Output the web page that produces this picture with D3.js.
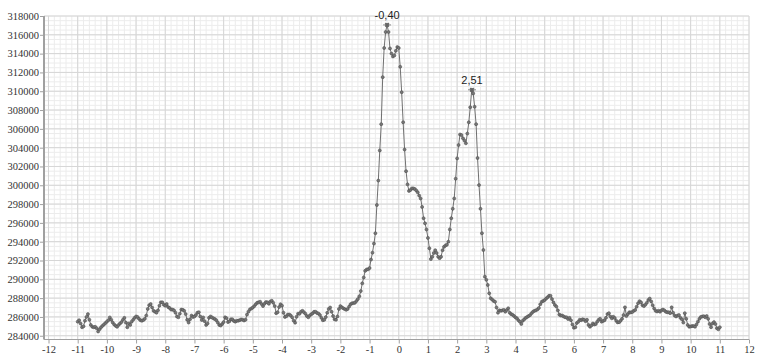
<!DOCTYPE html>
<html>
<head>
<meta charset="utf-8">
<script src="https://cdn.jsdelivr.net/npm/d3@7"></script>
<style>
  html, body { margin: 0; padding: 0; background: #fff; }
  svg { display: block; }
</style>
</head>
<body>
<svg id="chart" width="757" height="356"></svg>
<script>
// x runs from -11 to 11 in steps of 0.05
const xStart = -11;
const xStep = 0.05;
const values = [
  // -11.00 .. -10.05
  285500, 285650, 285300, 284900, 285000, 285600, 286000, 286300, 285700, 285150,
  284950, 284900, 284950, 284800, 284450, 284700, 284900, 285050, 285200, 285350,
  // -10.00 .. -9.05
  285500, 285650, 285950, 285700, 285400, 285200, 285050, 284950, 285150, 285300,
  285450, 285700, 285900, 285400, 284900, 285300, 285150, 285500, 285700, 285900,
  // -9.00 .. -8.05
  286050, 286000, 285800, 285650, 285600, 285670, 285800, 286150, 286850, 287250,
  287370, 287000, 286650, 286560, 286450, 286700, 287200, 287550, 287550, 287300,
  // -8.00 .. -7.05
  287200, 287370, 287050, 286950, 286780, 286780, 286700, 286450, 286050, 285960,
  286350, 286780, 286760, 286650, 286300, 285700, 285400, 285750, 286150, 286000,
  // -7.00 .. -6.05
  286050, 286200, 286450, 286500, 286050, 285670, 285950, 285550, 285150, 285300,
  285900, 286050, 285950, 285850, 285770, 285650, 285400, 285150, 285080, 285250,
  // -6.00 .. -5.05
  285450, 285960, 285870, 285450, 285550, 285750, 285750, 285580, 285500, 285600,
  285600, 285660, 285730, 285700, 285620, 285700, 286250, 286560, 286800, 286900,
  // -5.00 .. -4.05
  287000, 287150, 287350, 287510, 287550, 287620, 287370, 287150, 287400, 287580,
  287550, 287400, 287640, 287720, 287510, 287150, 286400, 286500, 287050, 287350,
  // -4.00 .. -3.05
  287200, 286450, 286000, 286080, 286250, 286250, 286150, 285950, 285600, 285390,
  286020, 286350, 286330, 286550, 286650, 286500, 286350, 286100, 285960, 286150,
  // -3.00 .. -2.05
  286280, 286380, 286550, 286550, 286420, 286360, 286200, 285900, 285650, 285700,
  285980, 286450, 286850, 287000, 286560, 286100, 285750, 285700, 286050, 286850,
  // -2.00 .. -1.05
  287150, 287020, 286920, 286830, 286760, 286850, 287100, 287350, 287450, 287470,
  287510, 287700, 287900, 288200, 288750, 289570, 290200, 290900, 291050, 291060,
  // -1.00 .. -0.05
  291200, 292100, 292830, 293800, 294900, 297900, 300500, 303700, 306500, 311500,
  314600, 316300, 317050, 316300, 314550, 314000, 313700, 313800, 314300, 314700,
  // 0.00 .. 0.95
  314600, 312600, 309900, 306700, 303800, 301500, 300100, 299400, 299500, 299670,
  299670, 299600, 299450, 299250, 298900, 298600, 297700, 296500, 295950, 295300,
  // 1.00 .. 1.95
  294400, 293300, 292150, 292400, 292800, 293100, 292800, 292400, 292250, 292400,
  293100, 293450, 293600, 293680, 294000, 295300, 296500, 297500, 298600, 300700,
  // 2.00 .. 2.95
  302860, 304280, 305400, 305340, 305000, 304750, 304460, 305500, 306700, 308300,
  310150, 309770, 308350, 306500, 302900, 300020, 297500, 294900, 293120, 290280,
  // 3.00 .. 3.95
  289950, 289400, 288510, 287980, 287850, 287700, 287620, 287000, 286450, 286700,
  286650, 286700, 286750, 286560, 286740, 286920, 286450, 286300, 286220, 286100,
  // 4.00 .. 4.95
  285950, 285850, 285650, 285490, 285250, 285600, 285750, 285900, 286000, 286100,
  286200, 286400, 286550, 286650, 286700, 286800, 286950, 287350, 287620, 287700,
  // 5.00 .. 5.95
  287800, 287950, 288100, 288250, 288250, 287900, 287550, 287270, 287100, 286700,
  286250, 286150, 286150, 286050, 285960, 285960, 285780, 285900, 285650, 285200,
  // 6.00 .. 6.95
  284850, 284900, 285350, 285490, 285700, 285650, 285750, 285700, 285550, 285700,
  285150, 284960, 285100, 285300, 285200, 285250, 285500, 285700, 285800, 285500,
  // 7.00 .. 7.95
  285580, 285650, 285900, 286300, 286400, 286050, 285850, 286020, 285880, 285600,
  285420, 285440, 285600, 285800, 286200, 287020, 286100, 286300, 286500, 286480,
  // 8.00 .. 8.95
  286520, 286650, 286740, 287090, 287450, 287680, 287550, 287250, 287150, 287300,
  287510, 287800, 287950, 287650, 287250, 286900, 286650, 286580, 286660, 286560,
  // 9.00 .. 9.95
  286700, 286780, 286700, 286550, 286500, 286500, 286400, 287020, 286450, 286150,
  286050, 286150, 286200, 285900, 285750, 285400, 286400, 285800, 285150, 284960,
  // 10.00 .. 10.95
  284980, 285030, 285030, 284960, 285200, 285500, 285800, 286000, 286050, 286080,
  285960, 286100, 285800, 285250, 284900, 285300, 285450, 285250, 284800, 284680,
  // 11.00
  284900
];

const peakX = [-0.40, 2.51];
const peakY = [317050, 310150];
const peakLabels = ['-0,40', '2,51'];

const xTicks = d3.range(-12, 13, 1);
const yTicks = d3.range(284000, 318001, 2000);

const svg = d3.select('#chart');
const plotLeft = 44, plotRight = 749, plotTop = 16, plotBottom = 339.5;
const serif = '"Liberation Serif", "DejaVu Serif", "Times New Roman", serif';

const x = d3.scaleLinear().domain([-12, 12]).range([48.5, 749]);
const y = d3.scaleLinear().domain([283600, 318000]).range([plotBottom, plotTop]);

// Grid: minor first, then major
const grid = svg.append('g');
d3.range(-12, 12.001, 0.2).forEach(v => {
  grid.append('line')
    .attr('x1', x(v)).attr('x2', x(v)).attr('y1', plotTop).attr('y2', plotBottom)
    .attr('stroke', '#ececec').attr('stroke-width', 1);
});
d3.range(284000, 318001, 500).forEach(v => {
  grid.append('line')
    .attr('x1', plotLeft).attr('x2', plotRight).attr('y1', y(v)).attr('y2', y(v))
    .attr('stroke', '#ececec').attr('stroke-width', 1);
});
xTicks.forEach(v => {
  grid.append('line')
    .attr('x1', x(v)).attr('x2', x(v)).attr('y1', plotTop).attr('y2', plotBottom)
    .attr('stroke', '#d6d6d6').attr('stroke-width', 1);
});
yTicks.forEach(v => {
  grid.append('line')
    .attr('x1', plotLeft).attr('x2', plotRight).attr('y1', y(v)).attr('y2', y(v))
    .attr('stroke', '#d6d6d6').attr('stroke-width', 1);
});

// Axes
const xAxis = svg.append('g').attr('transform', `translate(0,${plotBottom})`)
  .call(d3.axisBottom(x).tickValues(xTicks).tickFormat(d => String(d))
    .tickSize(4).tickSizeOuter(0).tickPadding(2));
xAxis.select('.domain').attr('d', `M${plotLeft},0H${plotRight}`);
const yAxis = svg.append('g').attr('transform', `translate(${plotLeft},0)`)
  .call(d3.axisLeft(y).tickValues(yTicks).tickFormat(d => String(d))
    .tickSize(4).tickSizeOuter(0).tickPadding(1));
yAxis.select('.domain').attr('d', `M0,${plotTop}V${plotBottom}`).attr('stroke-width', 2);

svg.selectAll('.domain').attr('stroke', '#a0a0a0');
svg.selectAll('.tick line').attr('stroke', '#a0a0a0');
svg.selectAll('.tick text').attr('fill', '#333')
  .style('font-family', serif).style('font-size', '10.5px');

// Data
const pts = values.map((v, i) => ({ t: xStart + i * xStep, v }));

svg.append('path').datum(pts)
  .attr('fill', 'none').attr('stroke', '#707070').attr('stroke-width', 1)
  .attr('d', d3.line().x(d => x(d.t)).y(d => y(d.v)));

svg.append('g').selectAll('circle').data(pts).enter().append('circle')
  .attr('cx', d => x(d.t)).attr('cy', d => y(d.v))
  .attr('r', 1.5).attr('fill', '#777').attr('stroke', '#505050').attr('stroke-width', 0.6);

// Peak labels
const peaks = peakX.map((px, i) => ({ px, py: peakY[i], label: peakLabels[i] }));
const pk = svg.append('g').selectAll('g').data(peaks).enter().append('g')
  .attr('transform', d => `translate(${x(d.px)},${y(d.py)})`);
pk.append('line').attr('x1', -4).attr('x2', 4).attr('y1', 0).attr('y2', 0)
  .attr('stroke', '#888').attr('stroke-width', 1);
pk.append('path').attr('d', d3.symbol().type(d3.symbolCross).size(14))
  .attr('transform', 'rotate(45)').attr('fill', '#666');
pk.append('text').attr('y', -6).attr('text-anchor', 'middle')
  .attr('fill', '#222')
  .style('font-family', '"Liberation Sans", Arial, sans-serif')
  .style('font-size', '11px')
  .text(d => d.label);
</script>
</body>
</html>
